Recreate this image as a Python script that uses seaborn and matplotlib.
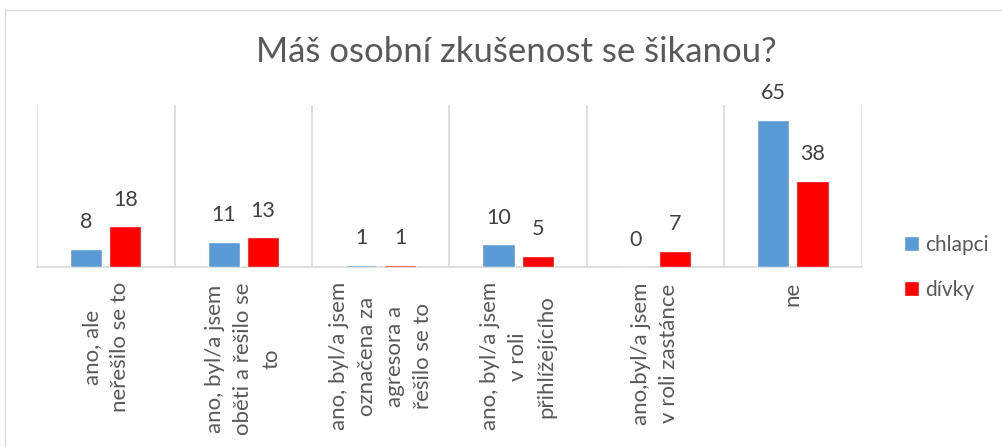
import numpy as np
import pandas as pd
import matplotlib.pyplot as plt
import seaborn as sns
from matplotlib.patches import Rectangle

categories = [
    "ano, ale\nneřešilo se to",
    "ano, byl/a jsem\noběti a řešilo se\nto",
    "ano, byl/a jsem\noznačena za\nagresora a\nřešilo se to",
    "ano, byl/a jsem\nv roli\npřihlížejícího",
    "ano,byl/a jsem\nv roli zastánce",
    "ne",
]
chlapci = [8, 11, 1, 10, 0, 65]
divky = [18, 13, 1, 5, 7, 38]
series = ["chlapci", "dívky"]

df = pd.DataFrame({
    "kategorie": categories * 2,
    "pohlavi": [series[0]] * 6 + [series[1]] * 6,
    "pocet": chlapci + divky,
})

sns.set_style("white")
plt.rcParams["font.family"] = ["Lato", "DejaVu Sans"]
gray = "#595959"

fig = plt.figure(figsize=(10.03, 4.47), dpi=100)
ax = fig.add_axes([0.037, 0.403, 0.822, 0.362])

sns.barplot(data=df, x="kategorie", y="pocet", hue="pohlavi",
            palette=["#5B9BD5", "#FF0000"], saturation=1, width=0.57, gap=0.18,
            ax=ax, legend=True)

for cont in ax.containers:
    ax.bar_label(cont, padding=12, fontsize=15.5, color="#404040")

ax.set_ylim(0, 71.6)
ax.set_xlim(-0.5, 5.5)
ax.set_yticks([])
ax.set_xlabel("")
ax.set_ylabel("")
ax.set_xticks(range(len(categories)))
ax.set_xticklabels(categories, rotation=90, ha="center", va="top",
                   multialignment="center", fontsize=16, color=gray,
                   linespacing=1.5)
ax.tick_params(axis="x", length=0, pad=11)
ax.set_xticks(np.arange(-0.5, 6), minor=True)
ax.tick_params(axis="x", which="minor", length=0)
ax.grid(which="minor", axis="x", color="#D9D9D9", linewidth=1.2)
ax.set_axisbelow(True)
for s in ["top", "left", "right"]:
    ax.spines[s].set_visible(False)
ax.spines["bottom"].set_color("#D9D9D9")
ax.spines["bottom"].set_linewidth(1.2)
ax.spines["bottom"].set_zorder(0.5)

leg = ax.legend(loc="center left", bbox_to_anchor=(904 / 1003, 1 - 267.5 / 447),
                bbox_transform=fig.transFigure, frameon=False, borderpad=0,
                borderaxespad=0, fontsize=15, handlelength=0.7, handleheight=0.7,
                labelspacing=1.2, handletextpad=0.3)
for t in leg.get_texts():
    t.set_color(gray)

fig.text(0.515, 0.884, "Máš osobní zkušenost se šikanou?", ha="center",
         va="center", fontsize=25, color=gray)

fig.patches.append(Rectangle((0.005, -0.1), 1.2, 1.077, transform=fig.transFigure,
                             fill=False, edgecolor="#D9D9D9", linewidth=1))

fig.savefig("out.png", dpi=100)
